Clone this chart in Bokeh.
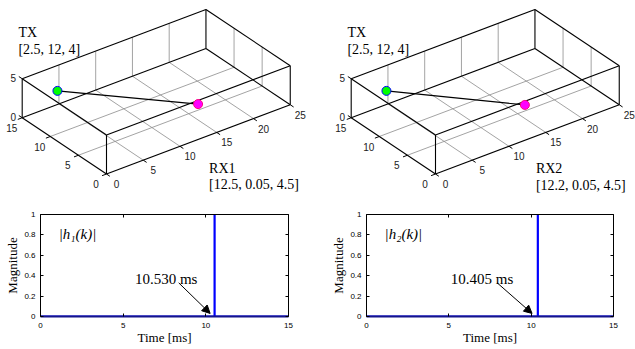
import numpy as np
from bokeh.plotting import figure
from bokeh.models import Range1d, Arrow, NormalHead, FixedTicker, LinearAxis
from bokeh.layouts import column, row
from bokeh.embed import file_html
from bokeh.resources import INLINE
from bokeh.core.properties import value

# ---------------- data ----------------
room_x = [0, 25]
room_y = [0, 15]
room_z = [0, 5]
x_ticks_3d = [0, 5, 10, 15, 20, 25]
y_ticks_3d = [0, 5, 10, 15]
z_ticks_3d = [0, 5]

tx_pos = [2.5, 12, 4]
rx1_pos = [12.5, 0.05, 4.5]
rx2_pos = [12.2, 0.05, 4.5]
tx_text = ["TX", "[2.5, 12, 4]"]
rx1_text = ["RX1", "[12.5, 0.05, 4.5]"]
rx2_text = ["RX2", "[12.2, 0.05, 4.5]"]

delay1_ms = 10.530
delay2_ms = 10.405
t1 = [0.0, 10.530, 10.530, 10.530, 15.0]
h1 = [0.0, 0.0, 1.0, 0.0, 0.0]
t2 = [0.0, 10.405, 10.405, 10.405, 15.0]
h2 = [0.0, 0.0, 1.0, 0.0, 0.0]
time_ticks = [0, 5, 10, 15]
mag_ticks = [0, 0.2, 0.4, 0.6, 0.8, 1]
mag_tick_labels = ["0", "0.2", "0.4", "0.6", "0.8", "1"]

# ---------------- view (screen projection of the 3-D axes) ----------------
EX = (7.35, -2.77)
EY = (-5.62, -3.75)
EZ = (0.0, -7.8)

SERIF = value("Liberation Serif")
SANS = value("Liberation Sans")

TOP_H = 198
top = figure(width=635, height=TOP_H, x_range=Range1d(0, 635), y_range=Range1d(TOP_H, 0),
             output_backend="svg", toolbar_location=None,
             x_axis_location=None, y_axis_location=None, min_border=0)
top.outline_line_color = None
top.grid.visible = False


def draw_room(p, origin, rx_pos, rx_text):
    ox, oy = origin

    def P(x, y, z):
        x = np.asarray(x, float); y = np.asarray(y, float); z = np.asarray(z, float)
        return (ox + x * EX[0] + y * EY[0] + z * EZ[0]).tolist(), \
               (oy + x * EX[1] + y * EY[1] + z * EZ[1]).tolist()

    x0, x1 = room_x
    y0, y1 = room_y
    z0, z1 = room_z

    # grid lines on floor, back wall and right wall
    gxs, gys = [], []
    for xv in x_ticks_3d[1:-1]:
        for seg in (P([xv, xv], [y0, y1], [z0, z0]), P([xv, xv], [y1, y1], [z0, z1])):
            gxs.append(seg[0]); gys.append(seg[1])
    for yv in y_ticks_3d[1:-1]:
        for seg in (P([x0, x1], [yv, yv], [z0, z0]), P([x1, x1], [yv, yv], [z0, z1])):
            gxs.append(seg[0]); gys.append(seg[1])
    p.multi_line(gxs, gys, line_color="#8c8c8c", line_width=0.8)

    # box edges
    corners = [(a, b, c) for a in room_x for b in room_y for c in room_z]
    bxs, bys = [], []
    for i, c1 in enumerate(corners):
        for c2 in corners[i + 1:]:
            if sum(u != v for u, v in zip(c1, c2)) == 1:
                seg = P([c1[0], c2[0]], [c1[1], c2[1]], [c1[2], c2[2]])
                bxs.append(seg[0]); bys.append(seg[1])
    p.multi_line(bxs, bys, line_color="black", line_width=1.1)

    # tick marks
    tl = 0.6
    txs, tys = [], []
    for xv in x_ticks_3d:
        seg = P([xv, xv], [y0, y0 - tl], [z0, z0]); txs.append(seg[0]); tys.append(seg[1])
    for yv in y_ticks_3d:
        seg = P([x0, x0 - tl], [yv, yv], [z0, z0]); txs.append(seg[0]); tys.append(seg[1])
    for zv in z_ticks_3d:
        seg = P([x0, x0], [y1, y1 + tl], [zv, zv]); txs.append(seg[0]); tys.append(seg[1])
    p.multi_line(txs, tys, line_color="black", line_width=1)

    # tick labels
    lx, ly = P(x_ticks_3d, [y0] * len(x_ticks_3d), [z0] * len(x_ticks_3d))
    p.text(lx, ly, text=[str(v) for v in x_ticks_3d], x_offset=10, y_offset=10,
           text_align="center", text_baseline="middle", text_font=SANS,
           text_font_size="10px", text_color="#222222")
    lx, ly = P([x0] * len(y_ticks_3d), y_ticks_3d, [z0] * len(y_ticks_3d))
    p.text(lx, ly, text=[str(v) for v in y_ticks_3d], x_offset=-10.5, y_offset=10,
           text_align="center", text_baseline="middle", text_font=SANS,
           text_font_size="10px", text_color="#222222")
    lx, ly = P([x0] * len(z_ticks_3d), [y1] * len(z_ticks_3d), z_ticks_3d)
    p.text(lx, ly, text=[str(v) for v in z_ticks_3d], x_offset=-9, y_offset=-1,
           text_align="center", text_baseline="middle", text_font=SANS,
           text_font_size="10px", text_color="#222222")

    # link TX -> RX
    lx, ly = P([tx_pos[0], rx_pos[0]], [tx_pos[1], rx_pos[1]], [tx_pos[2], rx_pos[2]])
    p.line(lx, ly, line_color="black", line_width=1.1)

    # markers
    p.scatter([lx[0]], [ly[0]], size=9, fill_color="#00ff00", line_color="#0000ff", line_width=1)
    p.scatter([lx[1]], [ly[1]], size=9, fill_color="#ff00ff", line_color="#ff0080", line_width=1)

    # labels
    p.text([lx[0]] * 2, [ly[0]] * 2, text=tx_text, x_offset=-39, y_offset=[-58.4, -41.2],
           text_align="left", text_baseline="alphabetic", text_font=SERIF,
           text_font_size="14px", text_color="black")
    p.text([lx[1]] * 2, [ly[1]] * 2, text=rx_text, x_offset=11, y_offset=[64, 80.3],
           text_align="left", text_baseline="alphabetic", text_font=SERIF,
           text_font_size="14px", text_color="black")


draw_room(top, (106.0, 173.5), rx1_pos, rx1_text)
draw_room(top, (435.0, 173.5), rx2_pos, rx2_text)


def impulse_fig(t, h, delay, sub, width, mbl, mbr, txt_dx, arr_start_dx, arr_end_dx):
    p = figure(width=width, height=349 - TOP_H, x_range=Range1d(0, 15), y_range=Range1d(0, 1),
               output_backend="svg", toolbar_location=None,
               min_border_left=mbl, min_border_right=mbr, min_border_top=16, min_border_bottom=33)
    p.grid.visible = False
    p.outline_line_color = None

    p.line(t, h, line_color="#0000ff", line_width=2.2)

    for ax in (p.xaxis[0], p.yaxis[0]):
        ax.major_tick_in = 3
        ax.major_tick_out = 0
        ax.minor_tick_line_color = None
        ax.axis_line_color = "black"
        ax.major_tick_line_color = "black"
        ax.major_label_text_font = "Liberation Sans"
        ax.major_label_text_font_size = "8px"
        ax.major_label_text_color = "black"
        ax.major_label_standoff = 5
        ax.axis_label_text_font = "Liberation Serif"
        ax.axis_label_text_font_size = "13px"
        ax.axis_label_text_font_style = "normal"
        ax.axis_label_text_color = "black"
        ax.axis_label_standoff = 1
    p.xaxis[0].axis_label_standoff = -1
    p.xaxis[0].major_label_standoff = 6
    p.xaxis[0].axis_line_color = "#14148c"
    p.xaxis[0].axis_line_width = 2
    p.xaxis[0].ticker = FixedTicker(ticks=time_ticks)
    p.yaxis[0].ticker = FixedTicker(ticks=mag_ticks)
    p.yaxis[0].major_label_overrides = dict(zip(mag_ticks, mag_tick_labels))
    p.xaxis[0].axis_label = "Time [ms]"
    p.yaxis[0].axis_label = "Magnitude"

    for loc, tk in (("right", mag_ticks), ("above", time_ticks)):
        ax = LinearAxis(ticker=FixedTicker(ticks=tk), major_tick_in=3, major_tick_out=0,
                        minor_tick_line_color=None, major_label_text_font_size="8px",
                        major_label_text_color=None, major_label_standoff=0,
                        axis_line_color="black")
        p.add_layout(ax, loc)

    p.text([1.1], [0.81], text=[f"|h{sub}(k)|"], text_align="left", text_baseline="middle",
           text_font=SERIF, text_font_style="italic", text_font_size="15px", text_color="black")
    p.text([delay + txt_dx], [0.37], text=[f"{delay:.3f} ms"], text_align="center",
           text_baseline="alphabetic", text_font=SERIF, text_font_size="15px", text_color="black")
    p.add_layout(Arrow(end=NormalHead(size=8, fill_color="black", line_color="black"),
                       x_start=delay + arr_start_dx, y_start=0.33,
                       x_end=delay + arr_end_dx, y_end=0.03,
                       line_color="black", line_width=1))
    return p


bl = impulse_fig(t1, h1, delay1_ms, "\u2081", 322, 40, 34, -2.93, -2.17, -0.27)
br = impulse_fig(t2, h2, delay2_ms, "\u2082", 313, 44, 22, -3.39, -2.47, -0.35)

layout = column(top, row(bl, br))
open("out.html", "w").write(file_html(layout, INLINE))
